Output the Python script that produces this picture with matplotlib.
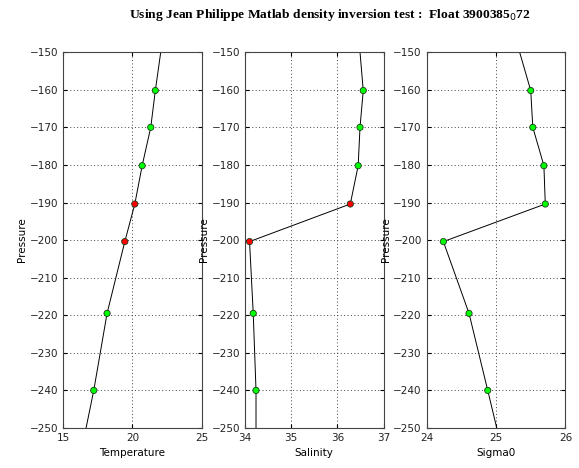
"""Density inversion test profiles: temperature, salinity and sigma0 vs pressure."""

import matplotlib

matplotlib.use("Agg")
import matplotlib.pyplot as plt
import numpy as np

# profile values (line extends past the plotted range)
pres = [-140.0, -150.0, -160.2, -170.0, -180.2, -190.4, -200.4, -219.5, -240.0, -260.0]
temp = [22.40, 22.04, 21.65, 21.32, 20.70, 20.17, 19.45, 18.17, 17.21, 16.10]
psal = [36.42, 36.49, 36.56, 36.49, 36.45, 36.28, 34.10, 34.18, 34.24, 34.24]
sig0 = [25.18, 25.34, 25.50, 25.53, 25.69, 25.71, 24.24, 24.61, 24.88, 25.14]

# flags of the sampled levels (indices 2..8): True = inversion (red)
flag_ts = [False, False, False, True, True, False, False]
flag_sig = [False, False, False, False, False, False, False]

panels = [
    ("Temperature", temp, flag_ts, (15, 25), [15, 20, 25]),
    ("Salinity", psal, flag_ts, (34, 37), [34, 35, 36, 37]),
    ("Sigma0", sig0, flag_sig, (24, 26), [24, 25, 26]),
]

TITLE = "Using Jean Philippe Matlab density inversion test :  Float 3900385$_{0}$72"


def main():
    fig = plt.figure(figsize=(5.79, 4.68), dpi=100)
    lefts = [0.109, 0.423, 0.737]
    sl = slice(2, 9)
    for left, (label, vals, flags, xlim, xticks) in zip(lefts, panels):
        ax = fig.add_axes([left, 0.0855, 0.2395, 0.803])
        ax.plot(vals, pres, color="black", linewidth=0.7, zorder=2)
        v = np.array(vals)[sl]
        p = np.array(pres)[sl]
        cols = ["#ff0000" if f else "#00ff00" for f in flags]
        ax.scatter(v, p, s=20, c=cols, edgecolors="#1a3a1a", linewidths=0.6, zorder=3)
        ax.set_xlim(*xlim)
        ax.set_ylim(-250, -150)
        ax.set_xticks(xticks)
        ax.set_yticks(np.arange(-250, -149, 10))
        ax.grid(True, linestyle=(0, (1, 2.5)), color="#444444", linewidth=0.7)
        ax.tick_params(direction="in", labelsize=7.5, length=3, top=True, right=True,
                       labelcolor="#222222")
        for s in ax.spines.values():
            s.set_color("#444444")
            s.set_linewidth(0.8)
        ax.set_xlabel(label, fontsize=7.5, labelpad=4)
        ax.set_ylabel("Pressure", fontsize=7.5, labelpad=2)

    fig.text(0.57, 0.968, TITLE, ha="center", va="center", fontsize=9.7,
             fontweight="bold", family="Liberation Serif")
    fig.savefig("out.png", dpi=100)
    plt.close(fig)


if __name__ == "__main__":
    main()
